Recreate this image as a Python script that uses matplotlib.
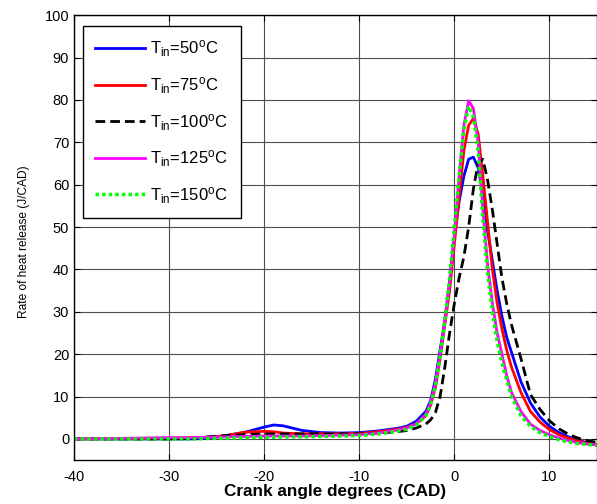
import numpy as np
import matplotlib
matplotlib.use('Agg')
from matplotlib import pyplot as plt

plt.rcParams['font.family'] = ['Liberation Sans', 'DejaVu Sans']
plt.rcParams['mathtext.fontset'] = 'custom'
plt.rcParams['mathtext.rm'] = 'Liberation Sans'
plt.rcParams['axes.unicode_minus'] = False

# crank angle (CAD)
cad = [-40, -30, -28, -26, -24, -22, -20, -19, -18, -16, -14, -12, -10, -8, -6, -5, -4, -3,
       -2.5, -2, -1.5, -1, -0.5, 0, 0.5, 1, 1.5, 2, 2.5, 3, 3.5, 4, 4.5, 5, 5.5, 6,
       7, 8, 9, 10, 11, 12, 13, 14, 15]

# rate of heat release (J/CAD) for each inlet temperature
hrr_50 = [0, 0, 0, 0.1, 0.8, 1.6, 2.8, 3.3, 3.1, 2.0, 1.5, 1.4, 1.5, 1.9, 2.5, 3.0, 4.2, 6.5,
          9, 14, 21, 28, 37, 48, 56, 62, 66, 66.5, 64, 58, 49, 42, 35, 29, 24, 20.5,
          13.5, 8.5, 5.2, 3.0, 1.5, 0.5, -0.3, -0.9, -1.3]
hrr_75 = [0, 0.2, 0.3, 0.4, 0.8, 1.6, 1.8, 1.7, 1.4, 1.2, 1.2, 1.2, 1.3, 1.7, 2.3, 2.7, 3.6, 5.5,
          8, 12, 19, 27, 35, 46, 57, 68, 74, 75.6, 72, 62, 51, 40, 32, 26, 21, 17,
          11, 6.5, 4, 2.2, 1.0, 0.2, -0.5, -1.0, -1.3]
hrr_100 = [0, 0, 0.1, 0.5, 0.8, 1.0, 1.2, 1.2, 1.2, 1.2, 1.2, 1.2, 1.2, 1.4, 1.7, 2.0, 2.6, 3.5,
           4.5, 6.2, 10, 17, 25, 32, 38, 43, 50, 59, 65, 66, 61, 54, 46, 38, 32, 27,
           19, 10.5, 7, 4.3, 2.4, 1.1, 0.2, -0.4, -0.8]
hrr_125 = [0, 0.3, 0.3, 0.4, 0.5, 0.6, 0.7, 0.7, 0.7, 0.7, 0.8, 0.9, 1.0, 1.4, 2.1, 2.6, 3.6, 5.8,
           8.5, 13, 20, 28, 37, 48, 62, 74, 79.8, 78, 70, 54, 41, 32, 25, 20, 15, 11,
           6.5, 3.5, 2, 1, 0.2, -0.4, -0.9, -1.2, -1.4]
hrr_150 = [0, 0, 0, 0.1, 0.2, 0.3, 0.4, 0.4, 0.5, 0.5, 0.6, 0.7, 0.8, 1.2, 1.8, 2.3, 3.3, 5.5,
           8, 12.5, 19.5, 28, 38, 50, 62, 73, 78.5, 76, 68, 52, 39, 30, 23, 18, 14, 10,
           5.5, 3, 1.5, 0.6, -0.2, -0.7, -1.1, -1.3, -1.5]

labels = [r'$\mathregular{T_{in}}$=50$\mathregular{^{o}}$C',
          r'$\mathregular{T_{in}}$=75$\mathregular{^{o}}$C',
          r'$\mathregular{T_{in}}$=100$\mathregular{^{o}}$C',
          r'$\mathregular{T_{in}}$=125$\mathregular{^{o}}$C',
          r'$\mathregular{T_{in}}$=150$\mathregular{^{o}}$C']

fig = plt.figure(figsize=(5.97, 5.04), dpi=100)
ax = fig.add_axes([0.124, 0.087, 0.876, 0.883])

ax.plot(cad, hrr_50, color='#0000ff', lw=2, label=labels[0])
ax.plot(cad, hrr_75, color='#ff0000', lw=2, label=labels[1])
ax.plot(cad, hrr_100, color='black', lw=2, ls=(0, (3.5, 1.8)), label=labels[2])
ax.plot(cad, hrr_125, color='#ff00ff', lw=2, label=labels[3])
ax.plot(cad, hrr_150, color='#00ff00', lw=2.5, ls=(0, (1, 0.9)), label=labels[4])

ax.set_xlim(-40, 15)
ax.set_ylim(-5, 100)
ax.set_xticks(np.arange(-40, 11, 10))
ax.set_yticks(np.arange(0, 101, 10))
ax.grid(True, color='0.3', lw=0.8)
ax.tick_params(direction='in', top=True, right=True, length=4, labelsize=10.5)
ax.tick_params(axis='x', pad=7)
for s in ax.spines.values():
    s.set_linewidth(1)

ax.set_xlabel('Crank angle degrees (CAD)', fontsize=12.3, fontweight='bold', labelpad=0)
ax.set_ylabel('Rate of heat release (J/CAD)', fontsize=8.6)
ax.yaxis.set_label_coords(-0.085, 0.49)

leg = ax.legend(loc='upper left', bbox_to_anchor=(0.017, 0.975), fontsize=12,
                handlelength=3.0, handletextpad=0.3, labelspacing=0.95, borderpad=0.75,
                fancybox=False, framealpha=1, edgecolor='black', borderaxespad=0)
leg.get_frame().set_linewidth(1)

plt.savefig('out.png', dpi=100)
